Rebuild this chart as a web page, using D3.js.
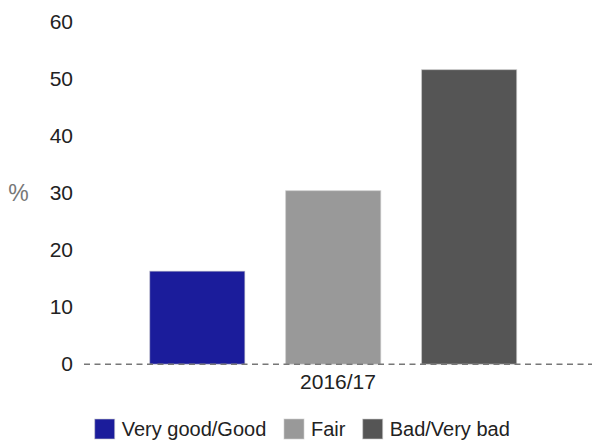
<!DOCTYPE html>
<html>
<head>
<meta charset="utf-8">
<script src="https://cdn.jsdelivr.net/npm/d3@7"></script>
<style>
  html, body { margin: 0; padding: 0; background: #fff; }
  svg { display: block; font-family: "Liberation Sans", Arial, sans-serif; }
</style>
</head>
<body>
<svg id="chart" width="592" height="441"></svg>
<script>
// Self-reported health, 2016/17
const categories = ["2016/17"];
const seriesNames = ["Very good/Good", "Fair", "Bad/Very bad"];
const seriesValues = [16.3, 30.4, 51.6];
const seriesColors = ["#1b1c9b", "#999999", "#555555"];
const yTicks = [0, 10, 20, 30, 40, 50, 60];
const yAxisTitle = "%";

const svg = d3.select("#chart");

const y = d3.scaleLinear().domain([0, 60]).range([364.2, 21.7]);

const x0 = d3.scaleBand().domain(categories).range([84, 592]);
const x1 = d3.scaleBand().domain(seriesNames).range([149.7, 516.7])
  .paddingInner(0.3).paddingOuter(0);

// y tick labels
const yAxis = d3.axisLeft(y).tickValues(yTicks).tickSize(0).tickPadding(0);
const gy = svg.append("g").attr("transform", "translate(73,0)").call(yAxis);
gy.select(".domain").remove();
gy.selectAll("text")
  .attr("font-size", 21)
  .attr("font-family", "'Liberation Sans', Arial, sans-serif")
  .attr("fill", "#222");

// axis title
svg.append("text")
  .attr("x", 18.5).attr("y", y(30))
  .attr("dy", "0.35em")
  .attr("text-anchor", "middle")
  .attr("font-size", 23)
  .attr("fill", "#777")
  .text(yAxisTitle);

// bars
const data = seriesNames.map((s, i) => ({ name: s, value: seriesValues[i], color: seriesColors[i] }));
svg.append("g").selectAll("rect").data(data).join("rect")
  .attr("x", d => x1(d.name))
  .attr("width", x1.bandwidth())
  .attr("y", d => y(d.value))
  .attr("height", d => y(0) - y(d.value))
  .attr("fill", d => d.color)
  .attr("stroke", "#cfcfcf")
  .attr("stroke-opacity", 0.6)
  .attr("stroke-width", 1);

// baseline
svg.append("line")
  .attr("x1", x0.range()[0]).attr("x2", x0.range()[1])
  .attr("y1", y(0)).attr("y2", y(0))
  .attr("stroke", "#777")
  .attr("stroke-width", 1.6)
  .attr("stroke-dasharray", "6,4.5");

// category label
const xAxis = d3.axisBottom(x0).tickSize(0).tickPadding(0);
const gx = svg.append("g").attr("transform", `translate(0,${y(0) + 6})`).call(xAxis);
gx.select(".domain").remove();
gx.selectAll("text")
  .attr("font-size", 21)
  .attr("font-family", "'Liberation Sans', Arial, sans-serif")
  .attr("fill", "#222")
  .attr("dy", "0.9em");

// legend
const legendX = [94.7, 284, 362.7];
const legend = svg.append("g").selectAll("g").data(data).join("g")
  .attr("transform", (d, i) => `translate(${legendX[i]},419)`);
legend.append("rect")
  .attr("width", 20).attr("height", 20)
  .attr("fill", d => d.color)
  .attr("stroke", "#cfcfcf").attr("stroke-opacity", 0.6);
legend.append("text")
  .attr("x", 27).attr("y", 10)
  .attr("dy", "0.35em")
  .attr("font-size", 20)
  .attr("fill", "#222")
  .text(d => d.name);
</script>
</body>
</html>
